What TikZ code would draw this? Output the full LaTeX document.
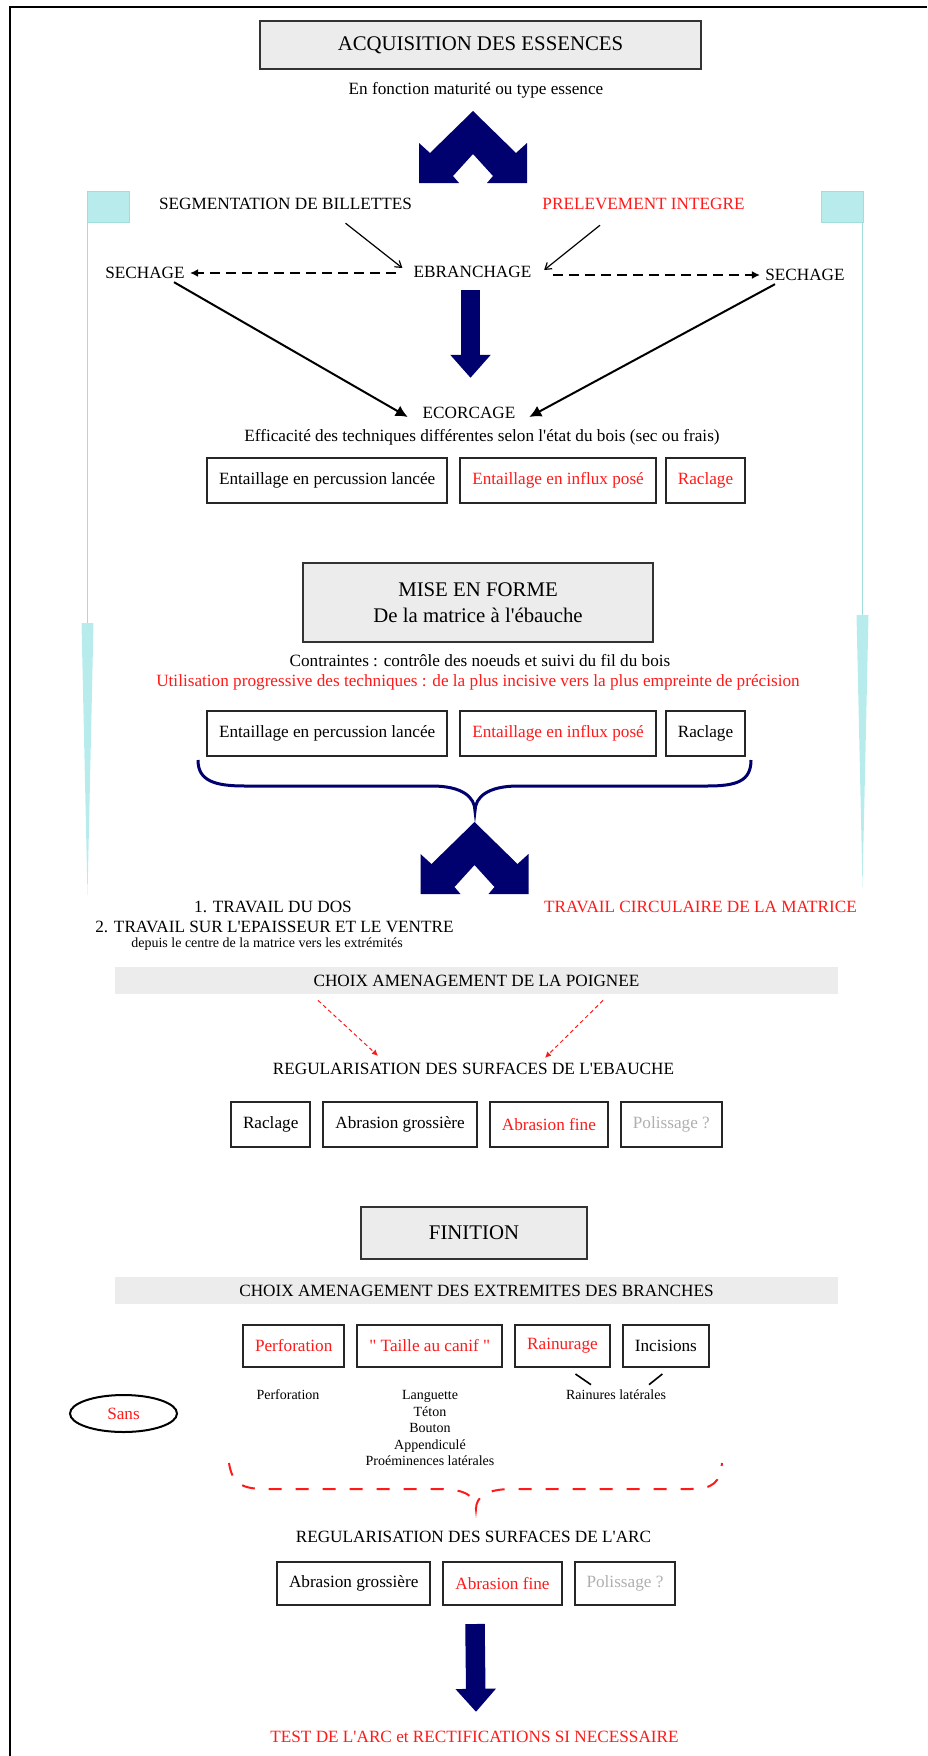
\documentclass[tikz,border=0pt]{standalone}
\usepackage{fontspec}
\setmainfont{Liberation Serif}[Ligatures=TeXOff]
\usetikzlibrary{arrows.meta,positioning,shapes.geometric}
\definecolor{bleu}{RGB}{0,0,110}
\definecolor{rouge}{RGB}{255,25,25}
\definecolor{gris}{RGB}{175,175,175}
\definecolor{fond}{RGB}{236,236,236}
\definecolor{cyanpale}{RGB}{184,236,236}
\definecolor{cyantrait}{RGB}{160,222,222}
\newcommand{\texte}{\fontsize{8.6}{10.3}\selectfont}
\newcommand{\titre}{\fontsize{10.4}{13}\selectfont}
\newcommand{\petit}{\fontsize{7}{8.25}\selectfont}
\newcommand{\maison}[1]{\fill[bleu,shift={(#1)}] (0,0) -- (43,42) -- (54,32) -- (54,72) -- (14,72) -- (20,65) -- (0,43) -- (-20,65) -- (-14,72) -- (-54,72) -- (-54,32) -- (-43,42) -- cycle;}
\newcommand{\repere}[3]{\draw[cyantrait,fill=cyanpale,line width=0.5pt] (#1,191) rectangle (#1+42,222);
\draw[cyantrait,line width=0.8pt] (#2,222) -- (#2,#3);
\fill[cyanpale] (#2-6,#3) -- (#2+6,#3) -- (#2,#3+272) -- cycle;}

\begin{document}
\begin{tikzpicture}[x=0.5pt,y=-0.5pt,
  lbl/.style={font=\texte,inner sep=0pt},
  sous/.style={font=\petit,inner sep=0pt,align=center},
  boite/.style={draw=black!85,line width=1pt,font=\texte,minimum height=22.5pt,inner xsep=6pt,inner ysep=0pt},
  titrebox/.style={draw=black!80,fill=fond,line width=1.2pt,font=\titre,align=center},
  bande/.style={fill=fond,font=\texte,minimum width=361.5pt,minimum height=13.5pt,inner sep=0pt},
  fleche/.style={line width=0.6pt,-{Straight Barb[length=3pt,width=4pt]}},
  tirets/.style={line width=1pt,dash pattern=on 5pt off 3pt,-{Latex[length=4pt,width=4pt]}},
  grosse/.style={line width=1pt,-{Latex[length=6pt,width=6pt]}},
  bloc/.style={bleu,line width=9.75pt,-{Triangle[length=11.5pt,width=19.5pt]}},
  pointill/.style={rouge,line width=0.5pt,dash pattern=on 2pt off 1.5pt,-{Latex[length=3pt,width=3pt]}},
  node distance=5.5pt]
\useasboundingbox (0,0) rectangle (927,1756);
\draw[line width=1pt] (10,1756) -- (10,7) -- (927,7);
\repere{87}{87.5}{623}
\repere{821}{862.5}{615}

\node[titrebox,minimum width=220.5pt,minimum height=24pt] (acq) at (480.5,45) {ACQUISITION DES ESSENCES};
\node[lbl] (fonc) at (476,90) {En fonction maturité ou type essence};
\maison{473,111}
\node[lbl] (seg) at (285.5,204) {SEGMENTATION DE BILLETTES};
\node[lbl,text=rouge] (prel) at (643.5,204) {PRELEVEMENT INTEGRE};
\node[lbl] (ebr) at (472.5,272) {EBRANCHAGE};
\node[lbl] (sech1) at (145,273) {SECHAGE};
\node[lbl] (sech2) at (805,275) {SECHAGE};
\node[lbl] (ecor) at (469,413) {ECORCAGE};
\node[lbl] (eff) at (482,437) {Efficacité des techniques différentes selon l'état du bois (sec ou frais)};
\draw[fleche] ([shift={(60,13)}]seg.south) -- ([shift={(-11,-4)}]ebr.west);
\draw[fleche] ([shift={(-43.5,15)}]prel.south) -- ([shift={(12.5,-2)}]ebr.east);
\draw[tirets] ([shift={(-17,1)}]ebr.west) -- ([shift={(5,0)}]sech1.east);
\draw[tirets] ([shift={(21.5,3)}]ebr.east) -- ([shift={(-5,0)}]sech2.west);
\draw[grosse] ([shift={(29,3)}]sech1.south) -- ([shift={(-14.5,4)}]ecor.west);
\draw[grosse] ([shift={(-30,3)}]sech2.south) -- ([shift={(13.5,4)}]ecor.east);
\draw[bloc] ([shift={(-2,12)}]ebr.south) -- ([shift={(1.5,-29)}]ecor.north);

\node[boite,anchor=west] (r1a) at (206,480.5) {Entaillage en percussion lancée};
\node[boite,text=rouge,right=of r1a] (r1b) {Entaillage en influx posé};
\node[boite,text=rouge,right=4pt of r1b] (r1c) {Raclage};

\node[titrebox,minimum width=175pt,minimum height=39.5pt] (mef) at (478,602.5) {MISE EN FORME\\De la matrice à l'ébauche};
\node[lbl] (contr) at (480,661) {Contraintes : contrôle des noeuds et suivi du fil du bois};
\node[lbl,text=rouge] (util) at (478,682) {Utilisation progressive des techniques : de la plus incisive vers la plus empreinte de précision};
\node[boite,anchor=west] (r2a) at (206,733) {Entaillage en percussion lancée};
\node[boite,text=rouge,right=of r2a] (r2b) {Entaillage en influx posé};
\node[boite,right=4pt of r2b] (r2c) {Raclage};
\draw[bleu,line width=1.5pt] (198,760) .. controls (198,781) and (215,786) .. (245,786) -- (432,786) .. controls (462,786) and (475,797) .. (475,811) .. controls (475,797) and (488,786) .. (518,786) -- (707,786) .. controls (737,786) and (751,781) .. (751,760);
\maison{474.5,822}

\node[lbl] (trav1) at (273,907) {1. TRAVAIL DU DOS};
\node[lbl] (trav2) at (274.5,927) {2. TRAVAIL SUR L'EPAISSEUR ET LE VENTRE};
\node[sous] (trav3) at (267,944) {depuis le centre de la matrice vers les extrémités};
\node[lbl,text=rouge] (circ) at (700.5,907) {TRAVAIL CIRCULAIRE DE LA MATRICE};

\node[bande] (choix1) at (476.5,980.5) {CHOIX AMENAGEMENT DE LA POIGNEE};
\node[lbl] (reg1) at (473.5,1069) {REGULARISATION DES SURFACES DE L'EBAUCHE};
\draw[pointill] ([shift={(-158.5,6)}]choix1.south) -- ([shift={(-95.5,-7)}]reg1.north);
\draw[pointill] ([shift={(126.5,6)}]choix1.south) -- ([shift={(71.5,-5)}]reg1.north);
\node[boite,anchor=west] (r3a) at (230,1124.5) {Raclage};
\node[boite,right=of r3a] (r3b) {Abrasion grossière};
\node[boite,text=rouge,right=of r3b] (r3c) {Abrasion fine};
\node[boite,text=gris,right=of r3c] (r3d) {Polissage ?};

\node[titrebox,minimum width=113pt,minimum height=26pt] (fin) at (474,1233) {FINITION};
\node[bande] (choix2) at (476.5,1290.5) {CHOIX AMENAGEMENT DES EXTREMITES DES BRANCHES};
\node[boite,minimum height=21pt,text=rouge,anchor=west] (r4a) at (242,1346) {Perforation};
\node[boite,minimum height=21pt,text=rouge,right=of r4a] (r4b) {" Taille au canif "};
\node[boite,minimum height=21pt,text=rouge,right=of r4b] (r4c) {Rainurage};
\node[boite,minimum height=21pt,right=of r4c] (r4d) {Incisions};
\node[sous] (perf) at (288,1395) {Perforation};
\node[sous] (taille) at (430,1428) {Languette\\Téton\\Bouton\\Appendiculé\\Proéminences latérales};
\node[sous] (rlat) at (616,1395) {Rainures latérales};
\draw[line width=0.8pt] ([shift={(13,6)}]r4c.south) -- ([shift={(-25,-5)}]rlat.north);
\draw[line width=0.8pt] ([shift={(-3.5,6)}]r4d.south) -- ([shift={(33,-5)}]rlat.north);
\node[ellipse,draw,line width=1pt,minimum width=53.5pt,minimum height=18.5pt,inner sep=0pt,font=\texte,text=rouge] (sans) at (123.5,1413.5) {Sans};
\draw[rouge,line width=1pt,dash pattern=on 6.5pt off 7pt] (229,1463) .. controls (232,1482) and (240,1489) .. (265,1489) -- (440,1489) .. controls (466,1489) and (476,1497) .. (476,1509) .. controls (476,1497) and (486,1489) .. (512,1489) -- (690,1489) .. controls (714,1489) and (720,1482) .. (722,1463);

\node[lbl] (reg2) at (473.5,1537) {REGULARISATION DES SURFACES DE L'ARC};
\node[boite,minimum height=21.5pt,anchor=west] (r5a) at (276,1583.5) {Abrasion grossière};
\node[boite,minimum height=21.5pt,text=rouge,right=of r5a] (r5b) {Abrasion fine};
\node[boite,minimum height=21.5pt,text=gris,right=of r5b] (r5c) {Polissage ?};
\node[lbl,text=rouge] (test) at (474.5,1737) {TEST DE L'ARC et RECTIFICATIONS SI NECESSAIRE};
\draw[bloc] ([shift={(-27.5,18)}]r5b.south) -- ([shift={(1.5,-19)}]test.north);
\end{tikzpicture}
\end{document}
